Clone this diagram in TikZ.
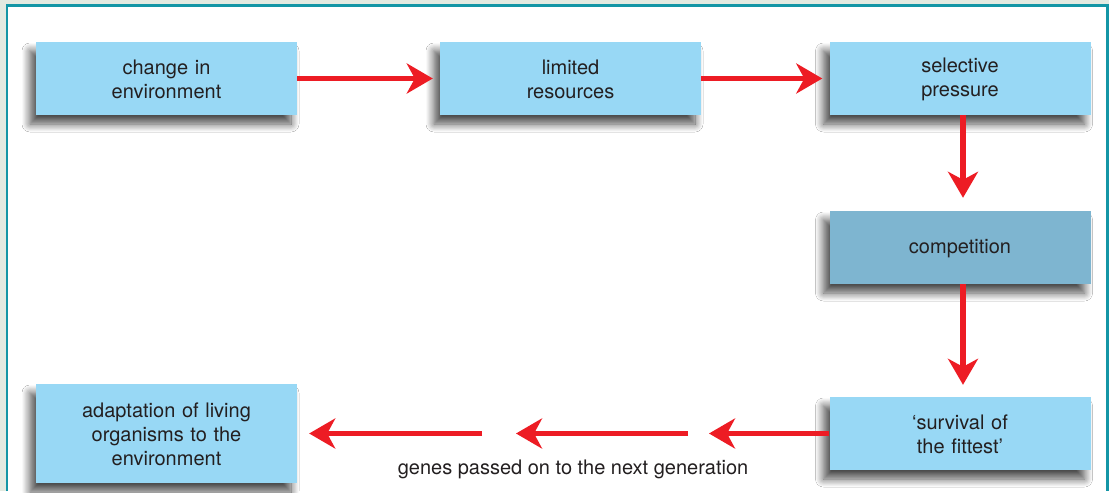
\documentclass[tikz,border=0pt]{standalone}
\usepackage{fontspec}
\setmainfont{TeX Gyre Heros}
\usetikzlibrary{arrows.meta,shadows.blur}
\definecolor{outerbg}{HTML}{E3EAE1}
\definecolor{frameteal}{HTML}{1496A6}
\definecolor{boxblue}{HTML}{98D8F5}
\definecolor{boxdark}{HTML}{7EB5D0}
\definecolor{txtgray}{HTML}{231F20}
\definecolor{arrowred}{HTML}{ED1C24}
\tikzset{
  flowbox/.style={fill=boxblue, minimum width=261pt, minimum height=73pt, inner sep=0pt,
    text width=250pt, align=center, text=txtgray,
    font=\fontsize{20}{24}\selectfont,
    execute at begin node={\rule{0pt}{16.5pt}},
    blur shadow={shadow xshift=-6pt, shadow yshift=-9pt, shadow blur radius=8pt, shadow blur steps=12, shadow opacity=70}},
  redarrow/.style={draw=arrowred, line width=5.5pt,
    -{Stealth[length=26pt,width=30pt,inset=8pt,fill=arrowred]}},
  captiontext/.style={text=txtgray, font=\fontsize{20}{24}\selectfont, inner sep=0pt}
}
\begin{document}
\begin{tikzpicture}[x=1pt,y=-1pt]
\fill[outerbg] (0,0) rectangle (1109,491);
\fill[white] (7,5.3) rectangle (1107.5,491);
\draw[frameteal, line width=2.6pt] (7,491) -- (7,5.3) -- (1107.5,5.3) -- (1107.5,491);
\useasboundingbox (0,0) rectangle (1109,491);

\node[flowbox] (b1) at (166.5,78.5) {change in\\environment};
\node[flowbox] (b2) at (570.5,78.5) {limited\\resources};
\node[flowbox] (b3) at (960,78.5) {selective\\pressure};
\node[flowbox, fill=boxdark] (b4) at (960,247.5) {competition};
\node[flowbox] (b5) at (960,433.5) {‘survival of\\the fittest’};
\node[flowbox, minimum height=99pt] (b6) at (166.5,433.5) {adaptation of living\\organisms to the\\environment};

\draw[redarrow, shorten >=7pt] (b1.east) -- (b2.west);
\draw[redarrow, shorten >=7pt] (b2.east) -- (b3.west);
\draw[redarrow, shorten >=13pt] ([xshift=3pt]b3.south) -- ([xshift=3pt]b4.north);
\draw[redarrow, shorten >=12pt] ([xshift=3pt]b4.south) -- ([xshift=3pt]b5.north);

\coordinate (t1) at (709,433.5);
\coordinate (s2) at (688,433.5);
\coordinate (t2) at (516,433.5);
\coordinate (s3) at (482,433.5);
\draw[redarrow] (b5.west) -- (t1);
\draw[redarrow] (s2) -- (t2);
\draw[redarrow, shorten >=12pt] (s3) -- (b6.east);

\node[captiontext] (lbl) at (573,469) {genes passed on to the next generation};
\end{tikzpicture}
\end{document}
